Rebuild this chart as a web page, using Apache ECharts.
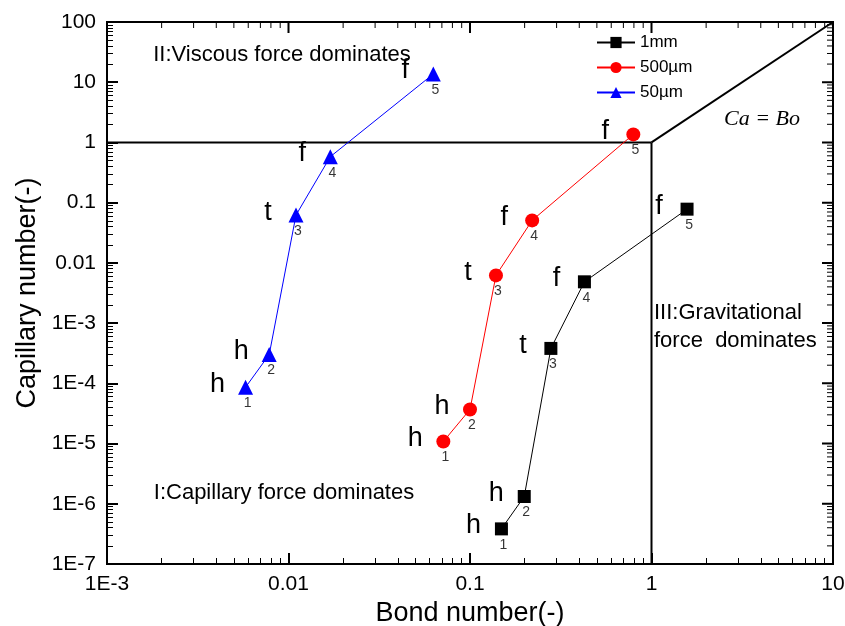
<!DOCTYPE html>
<html>
<head>
<meta charset="utf-8">
<script src="https://cdn.jsdelivr.net/npm/echarts@6/dist/echarts.min.js"></script>
<style>
  html, body { margin: 0; padding: 0; background: #fff; overflow: hidden; }
  #chart { width: 845px; height: 626px; }
</style>
</head>
<body>
<div id="chart"></div>
<script>
// Bond number (x) and capillary number (y) per channel size, stages 1..5
const bond1mm  = [0.149, 0.199, 0.279, 0.427, 1.57];
const cap1mm   = [3.83e-7, 1.32e-6, 3.8e-4, 4.85e-3, 0.078];
const bond500  = [0.0713, 0.1, 0.139, 0.22, 0.794];
const cap500   = [1.08e-5, 3.68e-5, 6.2e-3, 0.0508, 1.36];
const bond50   = [0.0058, 0.00783, 0.011, 0.017, 0.0628];
const cap50    = [8.6e-5, 3.0e-4, 0.0622, 0.58, 13.7];

const stageLetters = ['h', 'h', 't', 'f', 'f'];
const stageNumbers = ['1', '2', '3', '4', '5'];
const seriesNames  = ['1mm', '500\u00b5m', '50\u00b5m'];

const xTickLabels = ['1E-3', '0.01', '0.1', '1', '10'];
const yTickLabels = ['1E-7', '1E-6', '1E-5', '1E-4', '1E-3', '0.01', '0.1', '1', '10', '100'];

// Regime boundaries: Ca = 1, Bo = 1 and Ca = Bo
const viscousLimitX = [0.001, 1];
const viscousLimitY = [1, 1];
const gravityLimitX = [1, 1];
const gravityLimitY = [1e-7, 1];
const equalLineX = [1, 10];
const equalLineY = [1, 100];

const X_MIN = 1e-3, X_MAX = 10, Y_MIN = 1e-7, Y_MAX = 100;
const FONT = '"Liberation Sans", Arial, sans-serif';
const zip = (xs, ys) => xs.map((x, i) => [x, ys[i]]);
function tickLabel(labels, minExp) {
  return v => labels[Math.round(Math.log10(v)) - minExp] || '';
}

function axis(extra) {
  return Object.assign({
    type: 'log',
    axisLine: { show: true, lineStyle: { color: '#000', width: 2 } },
    axisTick: { show: true, inside: true, length: 11, lineStyle: { color: '#000', width: 2 } },
    minorTick: { show: true, splitNumber: 9, length: 6, lineStyle: { color: '#000', width: 1 } },
    splitLine: { show: false }
  }, extra);
}

function dataSeries(name, xs, ys, color, symbol, size) {
  return {
    name: name, type: 'line', data: zip(xs, ys),
    symbol: symbol, symbolSize: size,
    lineStyle: { color: color, width: 1 }, itemStyle: { color: color }, z: 5,
    label: { show: true, position: 'inside', offset: [-28, -3], formatter: p => stageLetters[p.dataIndex], color: '#000', fontFamily: FONT, fontSize: 27 }
  };
}
function numberSeries(xs, ys) {
  return {
    type: 'scatter', data: zip(xs, ys), symbolSize: 0, silent: true, z: 6,
    label: { show: true, position: 'inside', offset: [2, 16], formatter: p => stageNumbers[p.dataIndex], color: '#000', fontFamily: FONT, fontSize: 14 }
  };
}
function boundary(xs, ys) {
  return { type: 'line', data: zip(xs, ys), symbol: 'none', silent: true, lineStyle: { color: '#000', width: 2 }, z: 3 };
}

const option = {
  animation: false,
  backgroundColor: '#fff',
  grid: { left: 107, right: 12, top: 22, bottom: 62, outerBoundsMode: 'none', show: true, borderColor: '#000', borderWidth: 2, backgroundColor: 'transparent' },
  legend: { data: seriesNames, orient: 'vertical', left: 596, top: 34, padding: 0, itemWidth: 38, itemHeight: 14, itemGap: 8, textStyle: { fontFamily: FONT, fontSize: 17, color: '#000' } },
  xAxis: axis({ min: X_MIN, max: X_MAX, name: 'Bond number(-)', nameLocation: 'middle', nameGap: 30,
    nameTextStyle: { fontFamily: FONT, fontSize: 27, color: '#000' },
    axisLabel: { formatter: tickLabel(xTickLabels, -3), fontFamily: FONT, fontSize: 21, color: '#000', margin: 10 } }),
  yAxis: axis({ min: Y_MIN, max: Y_MAX, name: 'Capillary number(-)', nameLocation: 'middle', nameGap: 66,
    nameTextStyle: { fontFamily: FONT, fontSize: 27, color: '#000' },
    axisLabel: { formatter: tickLabel(yTickLabels, -7), fontFamily: FONT, fontSize: 21, color: '#000', margin: 11 } }),
  graphic: [
    { type: 'text', x: 282, y: 55, style: { text: 'II:Viscous force dominates', font: '22px ' + FONT, fill: '#000', align: 'center', verticalAlign: 'middle' } },
    { type: 'text', x: 284, y: 493, style: { text: 'I:Capillary force dominates', font: '22px ' + FONT, fill: '#000', align: 'center', verticalAlign: 'middle' } },
    { type: 'text', x: 654, y: 313, style: { text: 'III:Gravitational', font: '22px ' + FONT, fill: '#000', align: 'left', verticalAlign: 'middle' } },
    { type: 'text', x: 654, y: 341, style: { text: 'force  dominates', font: '22px ' + FONT, fill: '#000', align: 'left', verticalAlign: 'middle' } },
    { type: 'text', x: 762, y: 119, style: { text: 'Ca = Bo', font: 'italic 22px "Liberation Serif", "Times New Roman", serif', fill: '#000', align: 'center', verticalAlign: 'middle' } }
  ],
  series: [
    boundary(viscousLimitX, viscousLimitY),
    boundary(gravityLimitX, gravityLimitY),
    boundary(equalLineX, equalLineY),
    dataSeries(seriesNames[0], bond1mm, cap1mm, '#000000', 'rect', 13),
    dataSeries(seriesNames[1], bond500, cap500, '#ff0000', 'circle', 14),
    dataSeries(seriesNames[2], bond50, cap50, '#0000ff', 'triangle', 15),
    numberSeries(bond1mm, cap1mm),
    numberSeries(bond500, cap500),
    numberSeries(bond50, cap50)
  ]
};

const chart = echarts.init(document.getElementById('chart'), null, { renderer: 'canvas' });
chart.setOption(option);

// Mirror the tick marks onto the top and right frame edges
function mirrorTicks() {
  const toX = v => chart.convertToPixel({ xAxisIndex: 0 }, v);
  const toY = v => chart.convertToPixel({ yAxisIndex: 0 }, v);
  const fromX = p => chart.convertFromPixel({ xAxisIndex: 0 }, p);
  const fromY = p => chart.convertFromPixel({ yAxisIndex: 0 }, p);
  const top = toY(Y_MAX), right = toX(X_MAX);

  function segments(len, xVals, yVals) {
    const yt = fromY(top + len), xr = fromX(right - len);
    const pts = [];
    xVals.forEach(v => { pts.push([v, Y_MAX], [v, yt], [v, '-']); });
    yVals.forEach(v => { pts.push([X_MAX, v], [xr, v], ['-', v]); });
    return pts;
  }

  const xExp = [Math.round(Math.log10(X_MIN)), Math.round(Math.log10(X_MAX))];
  const yExp = [Math.round(Math.log10(Y_MIN)), Math.round(Math.log10(Y_MAX))];
  const xMajor = [], yMajor = [], xMinor = [], yMinor = [];
  for (let e = xExp[0]; e <= xExp[1]; e++) {
    xMajor.push(Math.pow(10, e));
    if (e < xExp[1]) for (let m = 2; m <= 9; m++) xMinor.push(m * Math.pow(10, e));
  }
  for (let e = yExp[0]; e <= yExp[1]; e++) {
    yMajor.push(Math.pow(10, e));
    if (e < yExp[1]) for (let m = 2; m <= 9; m++) yMinor.push(m * Math.pow(10, e));
  }

  const tickLine = (data, width) => ({
    type: 'line', data: data, symbol: 'none', silent: true, clip: false,
    connectNulls: false, z: 4, lineStyle: { color: '#000', width: width }
  });
  chart.setOption({
    series: option.series.concat([
      tickLine(segments(11, xMajor, yMajor), 2),
      tickLine(segments(6, xMinor, yMinor), 1)
    ])
  });
}
mirrorTicks();
</script>
</body>
</html>
